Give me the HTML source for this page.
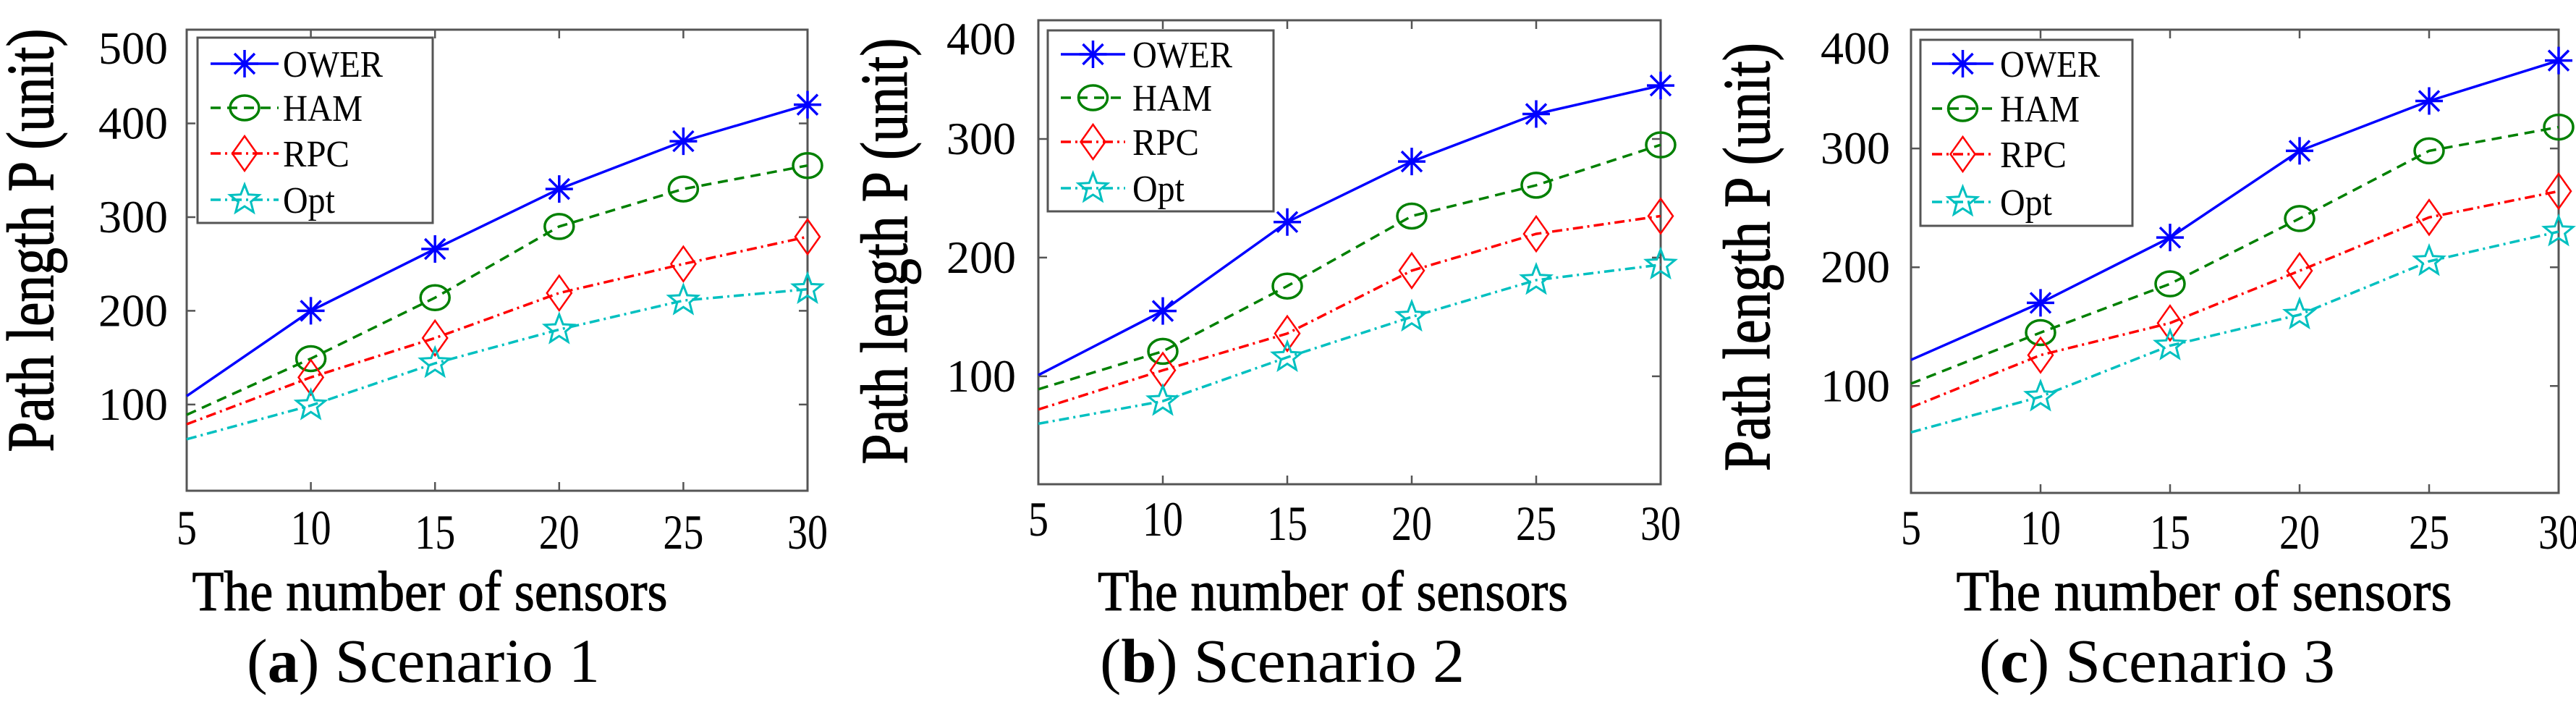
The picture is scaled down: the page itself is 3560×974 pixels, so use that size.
<!DOCTYPE html>
<html><head><meta charset="utf-8"><style>
html,body{margin:0;padding:0;background:#fff;}
svg{display:block;}
text{font-family:"Liberation Serif",serif;fill:#000;}
</style></head>
<body>
<svg id="fig" width="3560" height="974" viewBox="0 0 3560 974" xmlns="http://www.w3.org/2000/svg"></svg>
<script>
const categories = [5, 10, 15, 20, 25, 30];
const seriesNames = ["OWER", "HAM", "RPC", "Opt"];
const yTicksA = [100, 200, 300, 400, 500];
const yTicksB = [100, 200, 300, 400];
const yTicksC = [100, 200, 300, 400];
const owerA = [109, 200, 266, 330, 381, 420];
const hamA = [89, 149, 214, 290, 330, 355];
const rpcA = [79, 129, 171, 219, 250, 279];
const optA = [63, 99, 144, 180, 211, 223];
const owerB = [101, 155, 230, 281, 321, 345];
const hamB = [89, 121, 176, 235, 261, 295];
const rpcB = [72, 105, 136, 189, 220, 235];
const optB = [60, 79, 116, 150, 181, 194];
const owerC = [122, 170, 225, 298, 340, 374];
const hamC = [102, 145, 186, 241, 298, 318];
const rpcC = [82, 126, 153, 197, 242, 264];
const optC = [61, 91, 134, 160, 205, 230];

const NS = "http://www.w3.org/2000/svg";
const svg = document.getElementById("fig");
function mk(tag, attrs, parent) {
  const e = document.createElementNS(NS, tag);
  for (const k in attrs) e.setAttribute(k, attrs[k]);
  (parent || svg).appendChild(e);
  return e;
}
const styles = [
  {color: "#0000ff", dash: "", marker: "asterisk"},
  {color: "#008000", dash: "14,9", marker: "circle"},
  {color: "#ff0000", dash: "14,6,3,6", marker: "diamond"},
  {color: "#00c0c0", dash: "14,6,3,6", marker: "star"}
];
function marker(g, type, cx, cy, color) {
  let m;
  if (type === "asterisk") {
    m = mk("path", {d: `M${cx-19},${cy}H${cx+19}M${cx},${cy-19}V${cy+19}M${cx-14},${cy-14}L${cx+14},${cy+14}M${cx-14},${cy+14}L${cx+14},${cy-14}`, stroke: color, "stroke-width": 3.5, fill: "none"}, g);
  } else if (type === "circle") {
    m = mk("ellipse", {cx: cx, cy: cy, rx: 20, ry: 17, stroke: color, "stroke-width": 3.5, fill: "none"}, g);
  } else if (type === "diamond") {
    m = mk("path", {d: `M${cx},${cy-24}L${cx+17},${cy}L${cx},${cy+24}L${cx-17},${cy}Z`, stroke: color, "stroke-width": 2.5, fill: "none"}, g);
  } else {
    let d = "";
    for (let i = 0; i < 10; i++) {
      const r = i % 2 === 0 ? 21 : 9;
      const a = -Math.PI / 2 + i * Math.PI / 5;
      d += (i ? "L" : "M") + (cx + r * Math.cos(a)).toFixed(1) + "," + (cy + r * Math.sin(a)).toFixed(1);
    }
    m = mk("path", {d: d + "Z", stroke: color, "stroke-width": 3, fill: "none"}, g);
  }
  return m;
}
function panel(id, P, yTicks, data, ymin, ymax) {
  const g = mk("g", {});
  
  
  const xs = v => P.L + (v - 5) / 25 * (P.R - P.L);
  const ys = v => P.B - (v - ymin) / (ymax - ymin) * (P.B - P.T);
  // box
  const box = mk("rect", {x: P.L, y: P.T, width: P.R - P.L, height: P.B - P.T, fill: "none", stroke: "#555", "stroke-width": 3}, g);
  
  
  // x ticks
  categories.forEach((c, i) => {
    const x = xs(c);
    const t = mk("path", {d: `M${x},${P.B}v-12M${x},${P.T}v12`, stroke: "#555", "stroke-width": 2.5}, g);
    
    
    const lab = mk("text", {x: x, y: P.xly + (i >= 2 ? 6 : 0), "font-size": 68, "text-anchor": "middle", textLength: String(c).length * 28, lengthAdjust: "spacingAndGlyphs"}, g);
    lab.textContent = c;
    
    
  });
  yTicks.forEach(v => {
    const y = ys(v);
    const t = mk("path", {d: `M${P.L},${y}h12M${P.R},${y}h-12`, stroke: "#555", "stroke-width": 2.5}, g);
    
    
    const ly = Math.max(y, P.T + 26);
    const lab = mk("text", {x: P.ylx, y: ly + 21, "font-size": 64, "text-anchor": "end", textLength: 96, lengthAdjust: "spacingAndGlyphs"}, g);
    lab.textContent = v;
    
    
  });
  // series
  data.forEach((vals, si) => {
    const s = styles[si];
    const sg = mk("g", {}, g);
    
    
    const pts = vals.map((v, i) => xs(categories[i]).toFixed(1) + "," + ys(v).toFixed(1)).join(" ");
    const pl = mk("polyline", {points: pts, fill: "none", stroke: s.color, "stroke-width": 3.5, "stroke-dasharray": s.dash}, sg);
    
    
    vals.forEach((v, i) => {
      if (i === 0) return;
      const m = marker(sg, s.marker, xs(categories[i]), ys(v), s.color);
      
      
    });
  });
  // legend
  const lg = mk("g", {}, g);
  
  
  const lb = mk("rect", {x: P.lg.x, y: P.lg.y, width: P.lg.w, height: P.lg.h, fill: "#fff", stroke: "#555", "stroke-width": 3}, lg);
  
  
  seriesNames.forEach((n, si) => {
    const s = styles[si];
    const y = P.lg.ey[si];
    const eg = mk("g", {}, lg);
    
    
    mk("line", {x1: P.lg.l1, x2: P.lg.l2, y1: y, y2: y, stroke: s.color, "stroke-width": 3.5, "stroke-dasharray": s.dash}, eg);
    marker(eg, s.marker, (P.lg.l1 + P.lg.l2) / 2, y, s.color);
    const tw = {OWER: 138, HAM: 110, RPC: 92, Opt: 72}[n];
    const t = mk("text", {x: P.lg.tx, y: y + 18, "font-size": 52, textLength: tw, lengthAdjust: "spacingAndGlyphs"}, eg);
    t.textContent = n;
  });
  // titles
  const yt = mk("text", {x: 0, y: 0, "font-size": 92, "text-anchor": "middle", transform: `translate(${P.ytx},${P.yty}) rotate(-90)`, textLength: P.ytl, lengthAdjust: "spacingAndGlyphs", stroke: "#000", "stroke-width": 1.2}, g);
  yt.textContent = "Path length P (unit)";
  
  
  const xt = mk("text", {x: P.xtx, y: 843, "font-size": 78, "text-anchor": "middle", textLength: P.xtl, lengthAdjust: "spacingAndGlyphs", stroke: "#000", "stroke-width": 1}, g);
  xt.textContent = "The number of sensors";
  
  
  const cap = mk("text", {x: P.cx, y: 942, "font-size": 86, "text-anchor": "middle", textLength: P.cl, lengthAdjust: "spacingAndGlyphs"}, g);
  cap.innerHTML = '(<tspan font-weight="bold">' + id + '</tspan>) Scenario ' + P.num;
  
  
}
panel("a", {L: 258, R: 1116, T: 41, B: 678, ylx: 232, xly: 752,
  lg: {x: 273, y: 52, w: 325, h: 256, ey: [88, 149, 212, 276], l1: 291, l2: 385, tx: 391},
  ytx: 73, yty: 332, ytl: 585, xtx: 594, xtl: 657, cx: 585, cl: 488, num: 1},
  yTicksA, [owerA, hamA, rpcA, optA], 8, 500);
panel("b", {L: 1435, R: 2295, T: 28, B: 669, ylx: 1404, xly: 740,
  lg: {x: 1448, y: 42, w: 312, h: 250, ey: [75, 135, 196, 260], l1: 1466, l2: 1555, tx: 1565},
  ytx: 1253, yty: 347, ytl: 589, xtx: 1842, xtl: 650, cx: 1772, cl: 504, num: 2},
  yTicksB, [owerB, hamB, rpcB, optB], 9, 400);
panel("c", {L: 2641, R: 3536, T: 41, B: 681, ylx: 2612, xly: 752,
  lg: {x: 2654, y: 55, w: 293, h: 257, ey: [88, 150, 213, 279], l1: 2670, l2: 2755, tx: 2764},
  ytx: 2445, yty: 355, ytl: 592, xtx: 3046, xtl: 685, cx: 2981, cl: 492, num: 3},
  yTicksC, [owerC, hamC, rpcC, optC], 10, 400);
</script>
</body></html>
